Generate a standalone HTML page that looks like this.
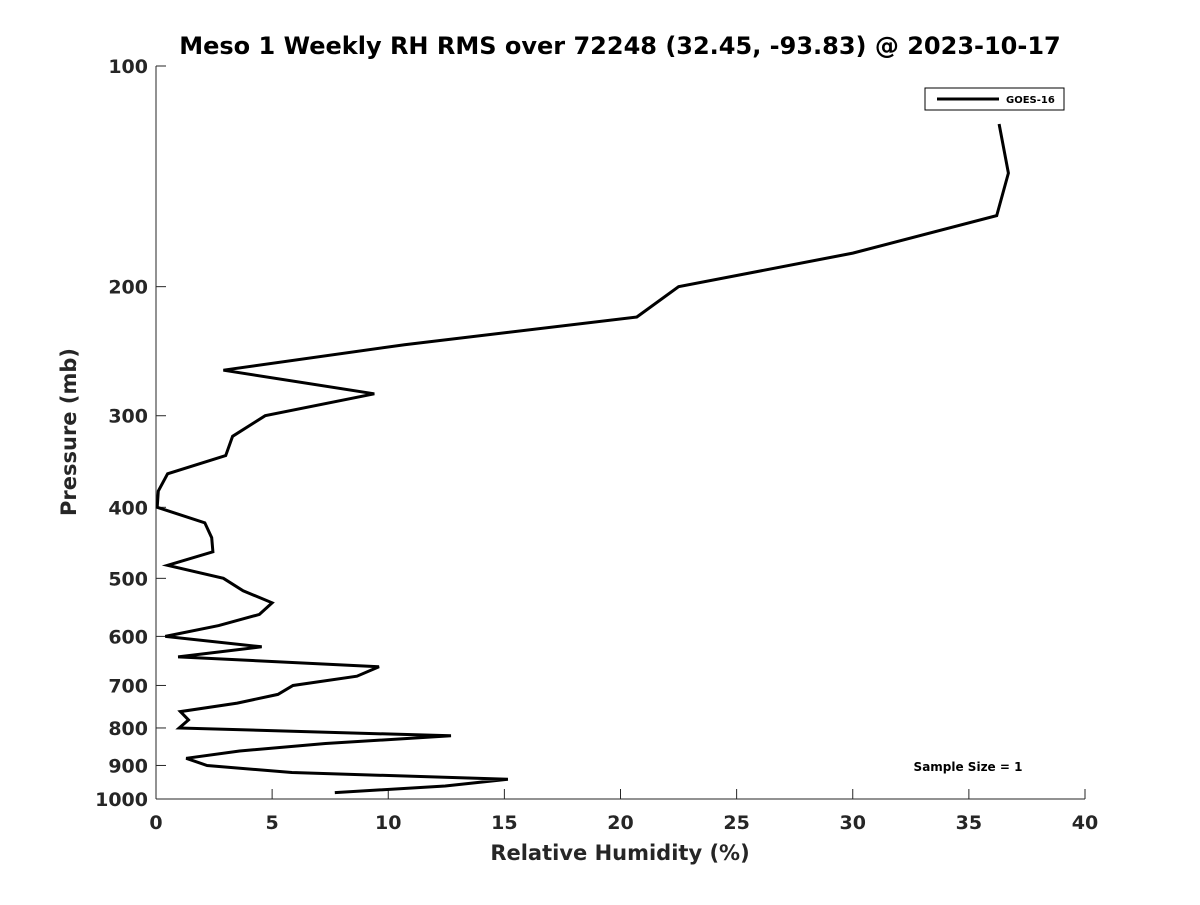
<!DOCTYPE html>
<html><head><meta charset="utf-8"><style>
body{margin:0;background:#fff;}
svg text{font-family:"DejaVu Sans","Liberation Sans",sans-serif;font-weight:bold;fill:#262626;}
</style></head><body>
<svg id="chart" width="1200" height="900" xmlns="http://www.w3.org/2000/svg">
<rect width="1200" height="900" fill="#fff"/>
<text x="620" y="54" font-size="24" text-anchor="middle" style="fill:#000">Meso 1 Weekly RH RMS over 72248 (32.45, -93.83) @ 2023-10-17</text>
<g id="axes"></g>
<polyline id="line" fill="none" stroke="#000" stroke-width="3" stroke-linejoin="miter"/>
<g>
<rect x="925" y="88" width="139" height="22" fill="#fff" stroke="#000" stroke-width="1"/>
<line x1="937" y1="99" x2="999" y2="99" stroke="#000" stroke-width="3"/>
<text x="1006" y="103" font-size="10" style="fill:#000">GOES-16</text>
</g>
<text x="968" y="771" font-size="12" text-anchor="middle" style="fill:#000">Sample Size = 1</text>
<text x="620" y="860" font-size="21" text-anchor="middle">Relative Humidity (%)</text>
<text transform="translate(76,432) rotate(-90)" font-size="21" text-anchor="middle">Pressure (mb)</text>
</svg>
<script>
const pressures=[120,140,160,180,200,220,240,260,280,300,320,340,360,380,400,420,440,460,480,500,520,540,560,580,600,620,640,660,680,700,720,740,760,780,800,820,840,860,880,900,920,940,960,980];
const rhValues=[36.3,36.7,36.2,30.0,22.5,20.7,10.7,2.9,9.4,4.7,3.3,3.0,0.5,0.1,0.05,2.1,2.4,2.45,0.5,2.9,3.75,5.0,4.45,2.7,0.4,4.55,0.95,9.6,8.65,5.9,5.25,3.5,1.05,1.4,1.0,12.7,7.3,3.6,1.3,2.2,5.85,15.15,12.45,7.7];
const xTicks=[0,5,10,15,20,25,30,35,40];
const yTicks=[100,200,300,400,500,600,700,800,900,1000];
const X0=156,X1=1085,Y0=66,Y1=799;
const xs=v=>X0+(v-0)/(40-0)*(X1-X0);
const ys=p=>Y0+(Math.log10(p)-2)/1*(Y1-Y0);
const NS="http://www.w3.org/2000/svg";
const ax=document.getElementById('axes');
function mk(t,a){const e=document.createElementNS(NS,t);for(const k in a)e.setAttribute(k,a[k]);return e;}
let e=mk('line',{x1:X0,y1:Y0,x2:X0,y2:Y1,stroke:'#262626','stroke-width':1});


ax.appendChild(e);
e=mk('line',{x1:X0,y1:Y1,x2:X1,y2:Y1,stroke:'#262626','stroke-width':1});


ax.appendChild(e);
xTicks.forEach(v=>{
 const t=mk('line',{x1:xs(v),y1:Y1,x2:xs(v),y2:Y1-10,stroke:'#262626'});
 
 
 ax.appendChild(t);
 const l=mk('text',{x:xs(v),y:Y1+30,'font-size':19,'text-anchor':'middle'});
 l.textContent=v;
 
 
 ax.appendChild(l);
});
yTicks.forEach(p=>{
 const t=mk('line',{x1:X0,y1:ys(p),x2:X0+10,y2:ys(p),stroke:'#262626'});
 
 
 ax.appendChild(t);
 const l=mk('text',{x:X0-8,y:ys(p)+7,'font-size':19,'text-anchor':'end'});
 l.textContent=p;
 
 
 ax.appendChild(l);
});
document.getElementById('line').setAttribute('points',pressures.map((p,i)=>xs(rhValues[i]).toFixed(1)+','+ys(p).toFixed(1)).join(' '));
</script>
</body></html>
